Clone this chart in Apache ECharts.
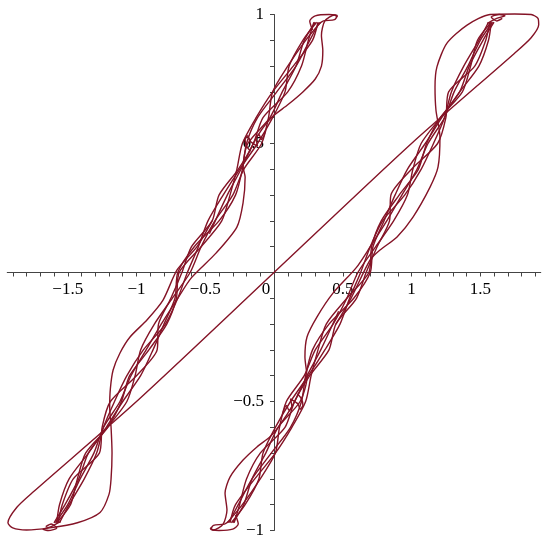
<!DOCTYPE html>
<html>
<head>
<meta charset="utf-8">
<script src="https://cdn.jsdelivr.net/npm/echarts@6/dist/echarts.min.js"></script>
<style>
  html, body { margin: 0; padding: 0; background: #fff; }
  #chart { width: 550px; height: 545px; }
</style>
</head>
<body>
<div id="chart"></div>
<script>
// y levels the braided strands are read at (left bundle: bottom -> top)
const levelsLeft = [-0.97, -0.9, -0.8, -0.7, -0.6, -0.5, -0.4, -0.3, -0.2, -0.1, 0, 0.1, 0.2, 0.3, 0.4, 0.5, 0.6, 0.7, 0.8, 0.9, 0.97];
// right bundle: top -> bottom
const levelsRight = [0.97, 0.9, 0.8, 0.7, 0.6, 0.5, 0.4, 0.3, 0.2, 0.1, 0, -0.1, -0.2, -0.3, -0.4, -0.5, -0.6, -0.7, -0.8, -0.9, -0.97];

// x of each braided strand at those levels
const leftA = [-1.58, -1.56, -1.49, -1.35, -1.22, -1.10, -0.97, -0.88, -0.80, -0.72, -0.70, -0.58, -0.40, -0.28, -0.23, -0.20, -0.12, 0.02, 0.16, 0.26, 0.33];
const leftB = [-1.56, -1.49, -1.38, -1.29, -1.24, -1.16, -1.07, -0.95, -0.79, -0.70, -0.63, -0.55, -0.48, -0.37, -0.25, -0.12, -0.01, 0.08, 0.11, 0.21, 0.31];
const leftC = [-1.60, -1.52, -1.42, -1.35, -1.21, -1.07, -1.01, -0.97, -0.87, -0.74, -0.61, -0.53, -0.43, -0.30, -0.22, -0.09, -0.04, -0.01, 0.10, 0.23, 0.34];
const leftD = [-1.57, -1.54, -1.46, -1.27, -1.25, -1.19, -1.00, -0.85, -0.84, -0.75, -0.67, -0.60, -0.45, -0.40, -0.26, -0.15, -0.08, 0.10, 0.20, 0.25, 0.29];
const leftE = [-1.58, -1.48, -1.43, -1.37, -1.21, -1.11, -1.05, -0.91, -0.78, -0.71, -0.69, -0.53, -0.38, -0.32, -0.27, -0.23, -0.13, -0.01, 0.14, 0.28, 0.32];

const rightA = [1.58, 1.56, 1.49, 1.35, 1.22, 1.10, 0.97, 0.88, 0.80, 0.72, 0.70, 0.58, 0.40, 0.28, 0.23, 0.20, 0.12, -0.02, -0.16, -0.26, -0.33];
const rightB = [1.56, 1.49, 1.38, 1.29, 1.24, 1.16, 1.07, 0.95, 0.79, 0.70, 0.63, 0.55, 0.48, 0.37, 0.25, 0.12, 0.01, -0.08, -0.11, -0.21, -0.31];
const rightC = [1.60, 1.52, 1.42, 1.35, 1.21, 1.07, 1.01, 0.97, 0.87, 0.74, 0.61, 0.53, 0.43, 0.30, 0.22, 0.09, 0.04, 0.01, -0.10, -0.23, -0.34];
const rightD = [1.57, 1.54, 1.46, 1.27, 1.25, 1.19, 1.00, 0.85, 0.84, 0.75, 0.67, 0.60, 0.45, 0.40, 0.26, 0.15, 0.08, -0.10, -0.20, -0.25, -0.29];
const rightE = [1.58, 1.48, 1.43, 1.37, 1.21, 1.11, 1.05, 0.91, 0.78, 0.71, 0.69, 0.53, 0.38, 0.32, 0.27, 0.23, 0.13, 0.01, -0.14, -0.28, -0.32];

// strands that leave the braid
const leftBulgeMid = [[-1.59, -0.97], [-1.50, -0.9], [-1.41, -0.8], [-1.31, -0.7], [-1.24, -0.6], [-1.12, -0.5], [-1.04, -0.4], [-0.93, -0.3], [-0.82, -0.2], [-0.70, -0.1], [-0.60, -0.02], [-0.42, 0.076], [-0.27, 0.176], [-0.225, 0.27], [-0.21, 0.37], [-0.225, 0.41], [-0.19, 0.5], [-0.03, 0.6], [0.06, 0.7], [0.16, 0.8], [0.22, 0.9], [0.30, 0.97]];
const leftBulgeTop = [[-0.47, 0.15], [-0.34, 0.3], [-0.24, 0.4], [-0.13, 0.52], [-0.02, 0.6], [0.10, 0.65], [0.21, 0.70], [0.30, 0.75], [0.345, 0.80], [0.355, 0.86], [0.345, 0.92], [0.37, 0.975], [0.44, 0.998], [0.46, 0.99]];
const rightBulgeMid = [[1.59, 0.97], [1.50, 0.9], [1.41, 0.8], [1.31, 0.7], [1.24, 0.6], [1.12, 0.5], [1.04, 0.4], [0.93, 0.3], [0.82, 0.2], [0.70, 0.1], [0.60, 0.02], [0.429, -0.08], [0.313, -0.172], [0.24, -0.25], [0.225, -0.328], [0.24, -0.405], [0.19, -0.5], [0.03, -0.6], [-0.06, -0.7], [-0.16, -0.8], [-0.22, -0.9], [-0.30, -0.97]];
const rightBulgeBottom = [[0.47, -0.15], [0.34, -0.3], [0.24, -0.4], [0.13, -0.52], [0.03, -0.6], [-0.029, -0.637], [-0.124, -0.676], [-0.225, -0.727], [-0.32, -0.793], [-0.356, -0.855], [-0.342, -0.921], [-0.37, -0.975], [-0.44, -0.998], [-0.465, -0.99]];

// the long path: left bundle -> lower-left loop -> diagonal -> upper-right loop -> right bundle
const loopPath = [[-0.45, 0.2], [-0.56, 0.10], [-0.705, 0.01], [-0.807, -0.107], [-0.924, -0.184], [-1.047, -0.25], [-1.12, -0.312], [-1.17, -0.378], [-1.19, -0.45], [-1.195, -0.52], [-1.185, -0.6], [-1.178, -0.7], [-1.185, -0.8], [-1.2, -0.86], [-1.265, -0.93], [-1.43, -0.97], [-1.63, -0.99], [-1.8, -0.998], [-1.9, -0.99], [-1.935, -0.97], [-1.87, -0.91], [-1.75, -0.85], [-1.0, -0.5], [0, 0], [1.0, 0.5], [1.75, 0.85], [1.87, 0.91], [1.925, 0.96], [1.92, 0.985], [1.87, 1.0], [1.75, 1.002], [1.571, 1.0], [1.404, 0.959], [1.258, 0.889], [1.185, 0.797], [1.171, 0.719], [1.178, 0.629], [1.207, 0.525], [1.193, 0.409], [1.135, 0.331], [1.011, 0.215], [0.895, 0.138], [0.771, 0.087], [0.698, 0.048], [0.56, -0.1], [0.45, -0.2]];

// small tangles where the bundles end, and two little curls near y = ±0.5
const knotLeftBottom = [[-1.55, -0.965], [-1.62, -0.985], [-1.68, -0.995], [-1.64, -1.0], [-1.58, -0.99], [-1.62, -0.975], [-1.66, -0.985]];
const knotLeftTop = [[0.28, 0.94], [0.26, 0.975], [0.30, 0.995], [0.40, 1.0], [0.46, 0.995], [0.44, 0.98], [0.36, 0.975], [0.32, 0.96]];
const knotRightTop = [[1.55, 0.965], [1.62, 0.985], [1.68, 0.995], [1.64, 1.0], [1.58, 0.99], [1.62, 0.975], [1.66, 0.985]];
const knotRightBottom = [[-0.28, -0.94], [-0.26, -0.975], [-0.30, -0.995], [-0.40, -1.0], [-0.46, -0.995], [-0.44, -0.98], [-0.36, -0.975], [-0.32, -0.96]];
const curlLeft = [[-0.17, 0.47], [-0.2, 0.49], [-0.21, 0.515], [-0.19, 0.53], [-0.175, 0.51], [-0.12, 0.49], [-0.13, 0.52], [-0.11, 0.535], [-0.09, 0.515], [-0.06, 0.55]];
const curlRight = [[0.17, -0.47], [0.2, -0.49], [0.21, -0.515], [0.19, -0.53], [0.175, -0.51], [0.12, -0.49], [0.13, -0.52], [0.11, -0.535], [0.09, -0.515], [0.06, -0.55]];

// axis ticks and labels
const xMinorTicks = [];
for (let k = -19; k <= 19; k++) xMinorTicks.push(k / 10);
const yMinorTicks = [];
for (let k = -10; k <= 10; k++) yMinorTicks.push(k / 10);
const xLabels = [-1.5, -1, -0.5, 0, 0.5, 1, 1.5];
const yLabels = [-1, -0.5, 0.5, 1];

const curveColor = '#841326';
const labelFont = "'Liberation Serif', 'Times New Roman', serif";

// plot box: x -1.94..1.94, y -1..1
const gridLeft = 7.25, gridTop = 14.5, gridW = 533.5, gridH = 516;
const zeroX = gridLeft + gridW * 1.94 / 3.88;   // pixel of x = 0
const zeroY = gridTop + gridH / 2;              // pixel of y = 0

const chart = echarts.init(document.getElementById('chart'), null, { renderer: 'canvas' });

const fmt = v => {
    if (v === 0) return '{z|0}';
    return v < 0 ? '\u2212' + String(-v) : String(v);
};

const lineSeries = (data) => ({
    type: 'line',
    data: data,
    smooth: 0.25,
    showSymbol: false,
    clip: false,
    lineStyle: { color: curveColor, width: 1.4 },
    emphasis: { disabled: true }
});

const series = [];
[leftA, leftB, leftC, leftD, leftE].forEach(xs => {
    series.push(lineSeries(levelsLeft.map((y, i) => [xs[i], y])));
});
[rightA, rightB, rightC, rightD, rightE].forEach(xs => {
    series.push(lineSeries(levelsRight.map((y, i) => [xs[i], y])));
});
[leftBulgeMid, leftBulgeTop, rightBulgeMid, rightBulgeBottom, loopPath,
 knotLeftBottom, knotLeftTop, knotRightTop, knotRightBottom, curlLeft, curlRight].forEach(d => series.push(lineSeries(d)));

const option = {
    animation: false,
    grid: { left: gridLeft, top: gridTop, width: gridW, height: gridH, containLabel: false, outerBoundsMode: 'none' },
    xAxis: {
        type: 'value',
        min: -1.94,
        max: 1.94,
        position: 'bottom',
        offset: -(gridTop + gridH - zeroY),
        axisLine: { onZero: false, lineStyle: { color: '#444', width: 1 } },
        axisTick: { customValues: xMinorTicks, length: 4, lineStyle: { color: '#444' } },
        axisLabel: {
            customValues: xLabels,
            formatter: fmt,
            margin: 9,
            color: '#000',
            fontFamily: labelFont,
            fontSize: 17,
            rich: { z: { fontFamily: labelFont, fontSize: 17, color: '#000', padding: [0, 16, 0, 0] } }
        },
        splitLine: { show: false }
    },
    yAxis: {
        type: 'value',
        min: -1,
        max: 1,
        position: 'left',
        offset: -(zeroX - gridLeft),
        axisLine: { onZero: false, lineStyle: { color: '#444', width: 1 } },
        axisTick: { customValues: yMinorTicks, length: 4, lineStyle: { color: '#444' } },
        axisLabel: {
            customValues: yLabels,
            formatter: fmt,
            margin: 10,
            color: '#000',
            fontFamily: labelFont,
            fontSize: 17
        },
        splitLine: { show: false }
    },
    series: series
};

chart.setOption(option);
</script>
</body>
</html>
